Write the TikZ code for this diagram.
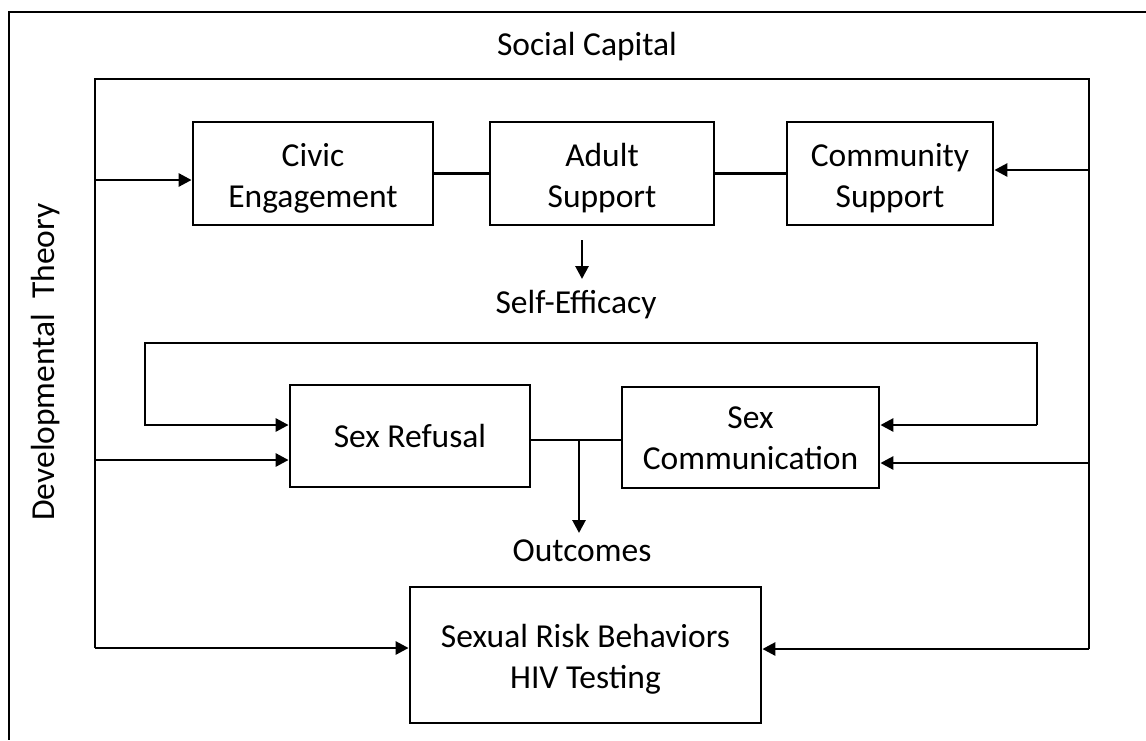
\documentclass[tikz,border=0pt]{standalone}
\usepackage{fontspec}
\setmainfont{Carlito}
\usetikzlibrary{arrows.meta}
\begin{document}
\begin{tikzpicture}[x=1pt,y=-1pt,
  line width=2.8pt,
  every node/.style={font=\fontsize{33.5}{41}\selectfont, inner sep=0pt, align=center},
  box/.style={draw, line width=2.8pt},
  arr/.style={-{Triangle[length=13pt,width=13pt]}},
  line join=miter]
\useasboundingbox (0,0) rectangle (1146,740);

% outer frame (open at right and bottom)
\draw (1146,12) -- (9,12) -- (9,740);

% labels of the two theories
\node (social) at (587,47) {Social Capital};
\node[rotate=90] (dev) at (46,362) {Developmental\ \ Theory};

% inner bracket
\coordinate (BLb) at (95,648);
\coordinate (BRb) at (1089,649);
\draw (BLb) -- (95,79) -- (1089,79) -- (BRb);

% top row
\node[box, minimum width=240pt, minimum height=103pt] (civic) at (313,173.5) {};
\node[box, minimum width=224pt, minimum height=103pt] (adult) at (602,173.5) {};
\node[box, minimum width=206pt, minimum height=103pt] (comm) at (890,173.5) {};
\node[yshift=-5pt] (civicT) at (civic.center) {Civic\\Engagement};
\node[yshift=-5pt] (adultT) at (adult.center) {Adult\\Support};
\node[yshift=-5pt] (commT) at (comm.center) {Community\\Support};
\draw (civic.east) -- (adult.west);
\draw (adult.east) -- (comm.west);

\coordinate (L1) at (95,180);
\coordinate (R1) at (1089,170);
\draw[arr] (L1) -- (L1 -| civic.west);
\draw[arr] (R1) -- (R1 -| comm.east);

% self-efficacy
\node (self) at (576,305) {Self-Efficacy};
\coordinate (SEa) at (582,240);
\coordinate (SEb) at (582,279);
\draw[arr] (SEa) -- (SEb);

% middle row
\node[box, minimum width=240pt, minimum height=102pt] (refusal) at (410,436) {};
\node[box, minimum width=257pt, minimum height=101pt] (sexcomm) at (750.5,437.5) {};
\node (refusalT) at (refusal.center) {Sex Refusal};
\node[yshift=-1pt] (sexcommT) at (sexcomm.center) {Sex\\Communication};

% feedback loop between the two
\coordinate (LPa) at (145,425);
\coordinate (LPb) at (1037,425);
\draw[arr] (LPb) -- (1037,343) -- (145,343) -- (LPa) -- (LPa -| refusal.west);
\draw[arr] (LPb) -- (LPb -| sexcomm.east);

\coordinate (L2) at (95,460);
\coordinate (R2) at (1089,463);
\draw[arr] (L2) -- (L2 -| refusal.west);
\draw[arr] (R2) -- (R2 -| sexcomm.east);

% outcomes
\coordinate (J) at (579,440);
\draw (refusal.east |- J) -- (sexcomm.west |- J);
\coordinate (OUTa) at (579,533);
\draw[arr] (J) -- (OUTa);
\node (outc) at (582,551) {Outcomes};

% bottom box
\node[box, minimum width=351pt, minimum height=136pt] (risk) at (585.5,655) {};
\node[yshift=-4pt] (riskT) at (risk.center) {Sexual Risk Behaviors\\HIV Testing};
\draw[arr] (BLb) -- (BLb -| risk.west);
\draw[arr] (BRb) -- (BRb -| risk.east);
\end{tikzpicture}
\end{document}
